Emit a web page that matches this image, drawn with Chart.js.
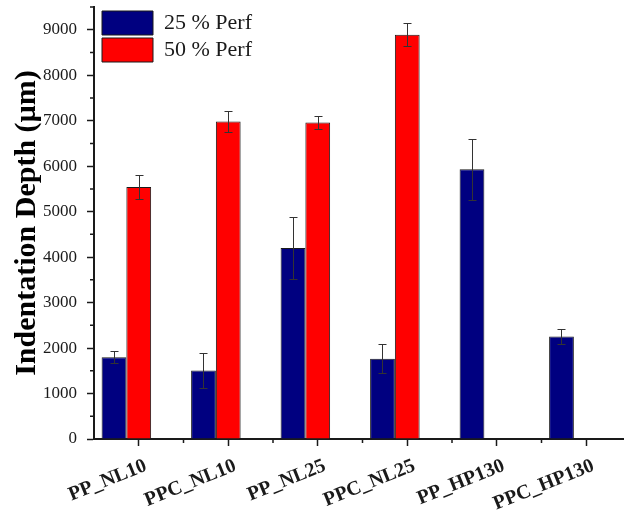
<!DOCTYPE html>
<html>
<head>
    <meta charset="utf-8">
    <title>Indentation Depth</title>
    <script src="https://cdn.jsdelivr.net/npm/chart.js"></script>
    <style>
        html, body {
            margin: 0;
            padding: 0;
            background: white;
            overflow: hidden;
        }
        .chart-box {
            position: relative;
            width: 631px;
            height: 519px;
        }
    </style>
</head>
<body>
    <div class="chart-box">
        <canvas id="depthChart"></canvas>
    </div>

    <script>
        // Data
        const samples = ['PP_NL10', 'PPC_NL10', 'PP_NL25', 'PPC_NL25', 'PP_HP130', 'PPC_HP130'];
        const perf25 = [1800, 1505, 4200, 1765, 5930, 2255];
        const perf25Err = [125, 385, 680, 315, 670, 155];
        const perf50 = [5540, 6980, 6960, 8890, null, null];
        const perf50Err = [260, 230, 150, 250, null, null];
        // Origin left an empty third column, which shifts the pairs left of the ticks
        const spare = [null, null, null, null, null, null];
        const yTicks = [0, 1000, 2000, 3000, 4000, 5000, 6000, 7000, 8000, 9000];
        const yMax = 9500;

        const serif = "'Liberation Serif', 'Times New Roman', serif";
        const ink = '#1a1a1a';

        // Error bars, drawn through the y scale
        const errorBars = {
            id: 'errorBars',
            afterDatasetsDraw(chart) {
                const ctx = chart.ctx;
                const y = chart.scales.y;
                ctx.save();
                ctx.strokeStyle = '#333';
                ctx.lineWidth = 1;
                chart.data.datasets.forEach((ds, di) => {
                    if (!ds.errors) return;
                    const meta = chart.getDatasetMeta(di);
                    meta.data.forEach((bar, i) => {
                        const v = ds.data[i], e = ds.errors[i];
                        if (v == null || e == null) return;
                        const top = Math.round(y.getPixelForValue(v + e)) + 0.5;
                        const bot = Math.round(y.getPixelForValue(v - e)) + 0.5;
                        const x = Math.round(bar.x) + 0.5;
                        ctx.beginPath();
                        ctx.moveTo(x, top);
                        ctx.lineTo(x, bot);
                        ctx.moveTo(x - 4, top);
                        ctx.lineTo(x + 4, top);
                        ctx.moveTo(x - 4, bot);
                        ctx.lineTo(x + 4, bot);
                        ctx.stroke();
                    });
                });
                ctx.restore();
            }
        };

        // Short minor ticks: halfway between y labels, and between categories
        const minorTicks = {
            id: 'minorTicks',
            afterDraw(chart) {
                const ctx = chart.ctx;
                const x = chart.scales.x, y = chart.scales.y;
                const area = chart.chartArea;
                ctx.save();
                ctx.strokeStyle = ink;
                ctx.lineWidth = 1.5;
                ctx.beginPath();
                yTicks.forEach(v => {
                    const py = y.getPixelForValue(v + 500);
                    ctx.moveTo(area.left, py);
                    ctx.lineTo(area.left - 4, py);
                });
                for (let i = 0; i < samples.length - 1; i++) {
                    const px = (x.getPixelForValue(i) + x.getPixelForValue(i + 1)) / 2;
                    ctx.moveTo(px, area.bottom);
                    ctx.lineTo(px, area.bottom + 4);
                }
                ctx.stroke();
                ctx.restore();
            }
        };

        // Put the legend just inside the top-left corner of the plot
        const legendNudge = {
            id: 'legendNudge',
            afterLayout(chart) {
                chart.legend.left = chart.chartArea.left + 5;
                chart.legend.top = chart.chartArea.top + 1;
            }
        };

        new Chart(document.getElementById('depthChart'), {
            type: 'bar',
            data: {
                labels: samples,
                datasets: [{
                    label: '25 % Perf',
                    data: perf25,
                    errors: perf25Err,
                    backgroundColor: '#000080',
                    borderColor: ink,
                    borderWidth: 1
                },
                {
                    label: '50 % Perf',
                    data: perf50,
                    errors: perf50Err,
                    backgroundColor: '#ff0000',
                    borderColor: ink,
                    borderWidth: 1
                },
                {
                    label: 'spare',
                    data: spare
                }]
            },
            options: {
                responsive: true,
                maintainAspectRatio: false,
                animation: false,
                barPercentage: 1,
                categoryPercentage: 0.83,
                layout: { padding: { top: 7, right: 0, bottom: 0, left: 0 } },
                plugins: {
                    tooltip: { enabled: false },
                    legend: {
                        position: 'chartArea',
                        align: 'start',
                        labels: {
                            filter: item => item.text !== 'spare',
                            boxWidth: 51,
                            boxHeight: 24,
                            padding: 3,
                            color: ink,
                            font: { family: serif, size: 22 }
                        }
                    }
                },
                scales: {
                    x: {
                        grid: {
                            offset: false,
                            drawOnChartArea: false,
                            tickLength: 7,
                            tickColor: ink,
                            tickWidth: 1.5
                        },
                        border: { color: ink, width: 2 },
                        ticks: {
                            minRotation: 22,
                            maxRotation: 22,
                            padding: 8,
                            labelOffset: 7,
                            color: ink,
                            font: { family: serif, size: 20, weight: 'bold' }
                        },
                        afterFit: s => { s.height = 80; }
                    },
                    y: {
                        min: 0,
                        max: yMax,
                        grid: {
                            drawOnChartArea: false,
                            tickLength: 7,
                            tickColor: ink,
                            tickWidth: 1.5
                        },
                        border: { color: ink, width: 2 },
                        afterBuildTicks: s => {
                            s.ticks = yTicks.concat([yMax]).map(v => ({ value: v }));
                        },
                        ticks: {
                            padding: 10,
                            color: ink,
                            font: { family: serif, size: 17 },
                            callback: v => yTicks.includes(v) ? String(v) : null
                        },
                        title: {
                            display: true,
                            text: 'Indentation Depth (µm)',
                            color: '#000',
                            padding: { top: 9, bottom: 0 },
                            font: { family: serif, size: 30, weight: 'bold' }
                        },
                        afterFit: s => {
                            s.width = 94;
                            s.paddingTop = 0;
                        }
                    }
                }
            },
            plugins: [errorBars, minorTicks, legendNudge]
        });
    </script>
</body>
</html>
